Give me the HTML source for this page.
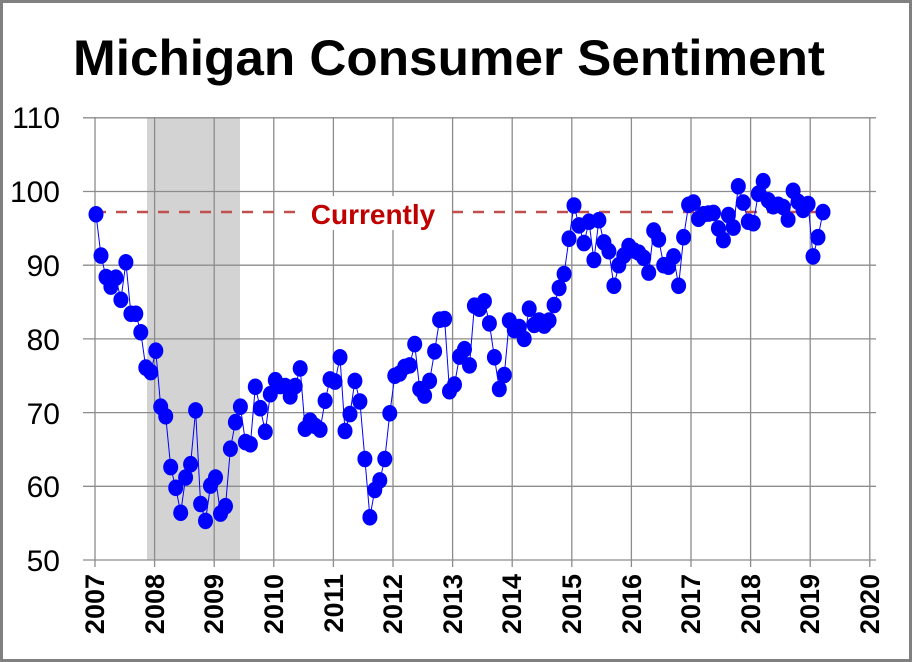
<!DOCTYPE html>
<html><head><meta charset="utf-8"><style>
html,body{margin:0;padding:0;background:#fff}
svg{display:block}
</style></head><body>
<svg id="s" width="912" height="662" xmlns="http://www.w3.org/2000/svg" font-family="Liberation Sans, sans-serif">
<rect x="1.5" y="1.5" width="909" height="659" fill="#fff" stroke="#808080" stroke-width="3"/>
<text x="449" y="75" text-anchor="middle" font-size="50" font-weight="bold" textLength="752" lengthAdjust="spacingAndGlyphs">Michigan Consumer Sentiment</text>
<rect x="147" y="117" width="93" height="443" fill="#d3d3d3"/>
<g id="grid" stroke="#8c8c8c" stroke-width="1.3"></g>
<g font-size="30" text-anchor="end">
<text x="60" y="128">110</text><text x="60" y="202">100</text><text x="60" y="276">90</text>
<text x="60" y="350">80</text><text x="60" y="424">70</text><text x="60" y="497">60</text><text x="60" y="571">50</text>
</g>
<g font-size="27" font-weight="bold" text-anchor="end">
<text transform="translate(104,574) rotate(-90)">2007</text>
<text transform="translate(164,574) rotate(-90)">2008</text>
<text transform="translate(223,574) rotate(-90)">2009</text>
<text transform="translate(283,574) rotate(-90)">2010</text>
<text transform="translate(343,574) rotate(-90)">2011</text>
<text transform="translate(402,574) rotate(-90)">2012</text>
<text transform="translate(462,574) rotate(-90)">2013</text>
<text transform="translate(521,574) rotate(-90)">2014</text>
<text transform="translate(581,574) rotate(-90)">2015</text>
<text transform="translate(641,574) rotate(-90)">2016</text>
<text transform="translate(700,574) rotate(-90)">2017</text>
<text transform="translate(760,574) rotate(-90)">2018</text>
<text transform="translate(819,574) rotate(-90)">2019</text>
<text transform="translate(879,574) rotate(-90)">2020</text>
</g>
<line x1="95" y1="212" x2="824" y2="212" stroke="#c0504d" stroke-width="2.5" stroke-dasharray="11,10"/>
<rect x="298" y="196" width="150" height="34" fill="#fff"/>
<text x="373" y="224" text-anchor="middle" font-size="28" font-weight="bold" fill="#c00000">Currently</text>
<g id="data"></g>
</svg>
<script>
var g=document.getElementById('grid'),s='';
for(var i=0;i<=13;i++){var x=95+i*59.6;s+='<line x1="'+x+'" y1="117" x2="'+x+'" y2="567"/>';}
for(var v=50;v<=110;v+=10){var y=560-(v-50)*7.37;s+='<line x1="83" y1="'+y+'" x2="876" y2="'+y+'"/>';}
g.innerHTML=s;
var d=[96.9,91.3,88.4,87.1,88.3,85.3,90.4,83.4,83.4,80.9,76.1,75.5,
78.4,70.8,69.5,62.6,59.8,56.4,61.2,63.0,70.3,57.6,55.3,60.1,
61.2,56.3,57.3,65.1,68.7,70.8,66.0,65.7,73.5,70.6,67.4,72.5,
74.4,73.6,73.6,72.2,73.6,76.0,67.8,68.9,68.2,67.7,71.6,74.5,
74.2,77.5,67.5,69.8,74.3,71.5,63.7,55.8,59.5,60.8,63.7,69.9,
75.0,75.3,76.2,76.4,79.3,73.2,72.3,74.3,78.3,82.6,82.7,72.9,
73.8,77.6,78.6,76.4,84.5,84.1,85.1,82.1,77.5,73.2,75.1,82.5,
81.2,81.6,80.0,84.1,81.9,82.5,81.8,82.5,84.6,86.9,88.8,93.6,
98.1,95.4,93.0,95.9,90.7,96.1,93.1,91.9,87.2,90.0,91.3,92.6,
92.0,91.7,91.0,89.0,94.7,93.5,90.0,89.8,91.2,87.2,93.8,98.2,
98.5,96.3,96.9,97.0,97.1,95.0,93.4,96.8,95.1,100.7,98.5,95.9,
95.7,99.7,101.4,98.8,98.0,98.2,97.9,96.2,100.1,98.6,97.5,98.3,
91.2,93.8,97.2];
var pts=[],c='';
var step=(823-96)/(d.length-1);
for(var k=0;k<d.length;k++){var x=96+k*step,y=560-(d[k]-50)*7.37;pts.push(x.toFixed(1)+','+y.toFixed(1));c+='<ellipse cx="'+x.toFixed(1)+'" cy="'+y.toFixed(1)+'" rx="7.5" ry="8.3" fill="#0000ff"/>';}
document.getElementById('data').innerHTML='<polyline points="'+pts.join(' ')+'" fill="none" stroke="#0000ff" stroke-width="1"/>'+c;
</script>
</body></html>
